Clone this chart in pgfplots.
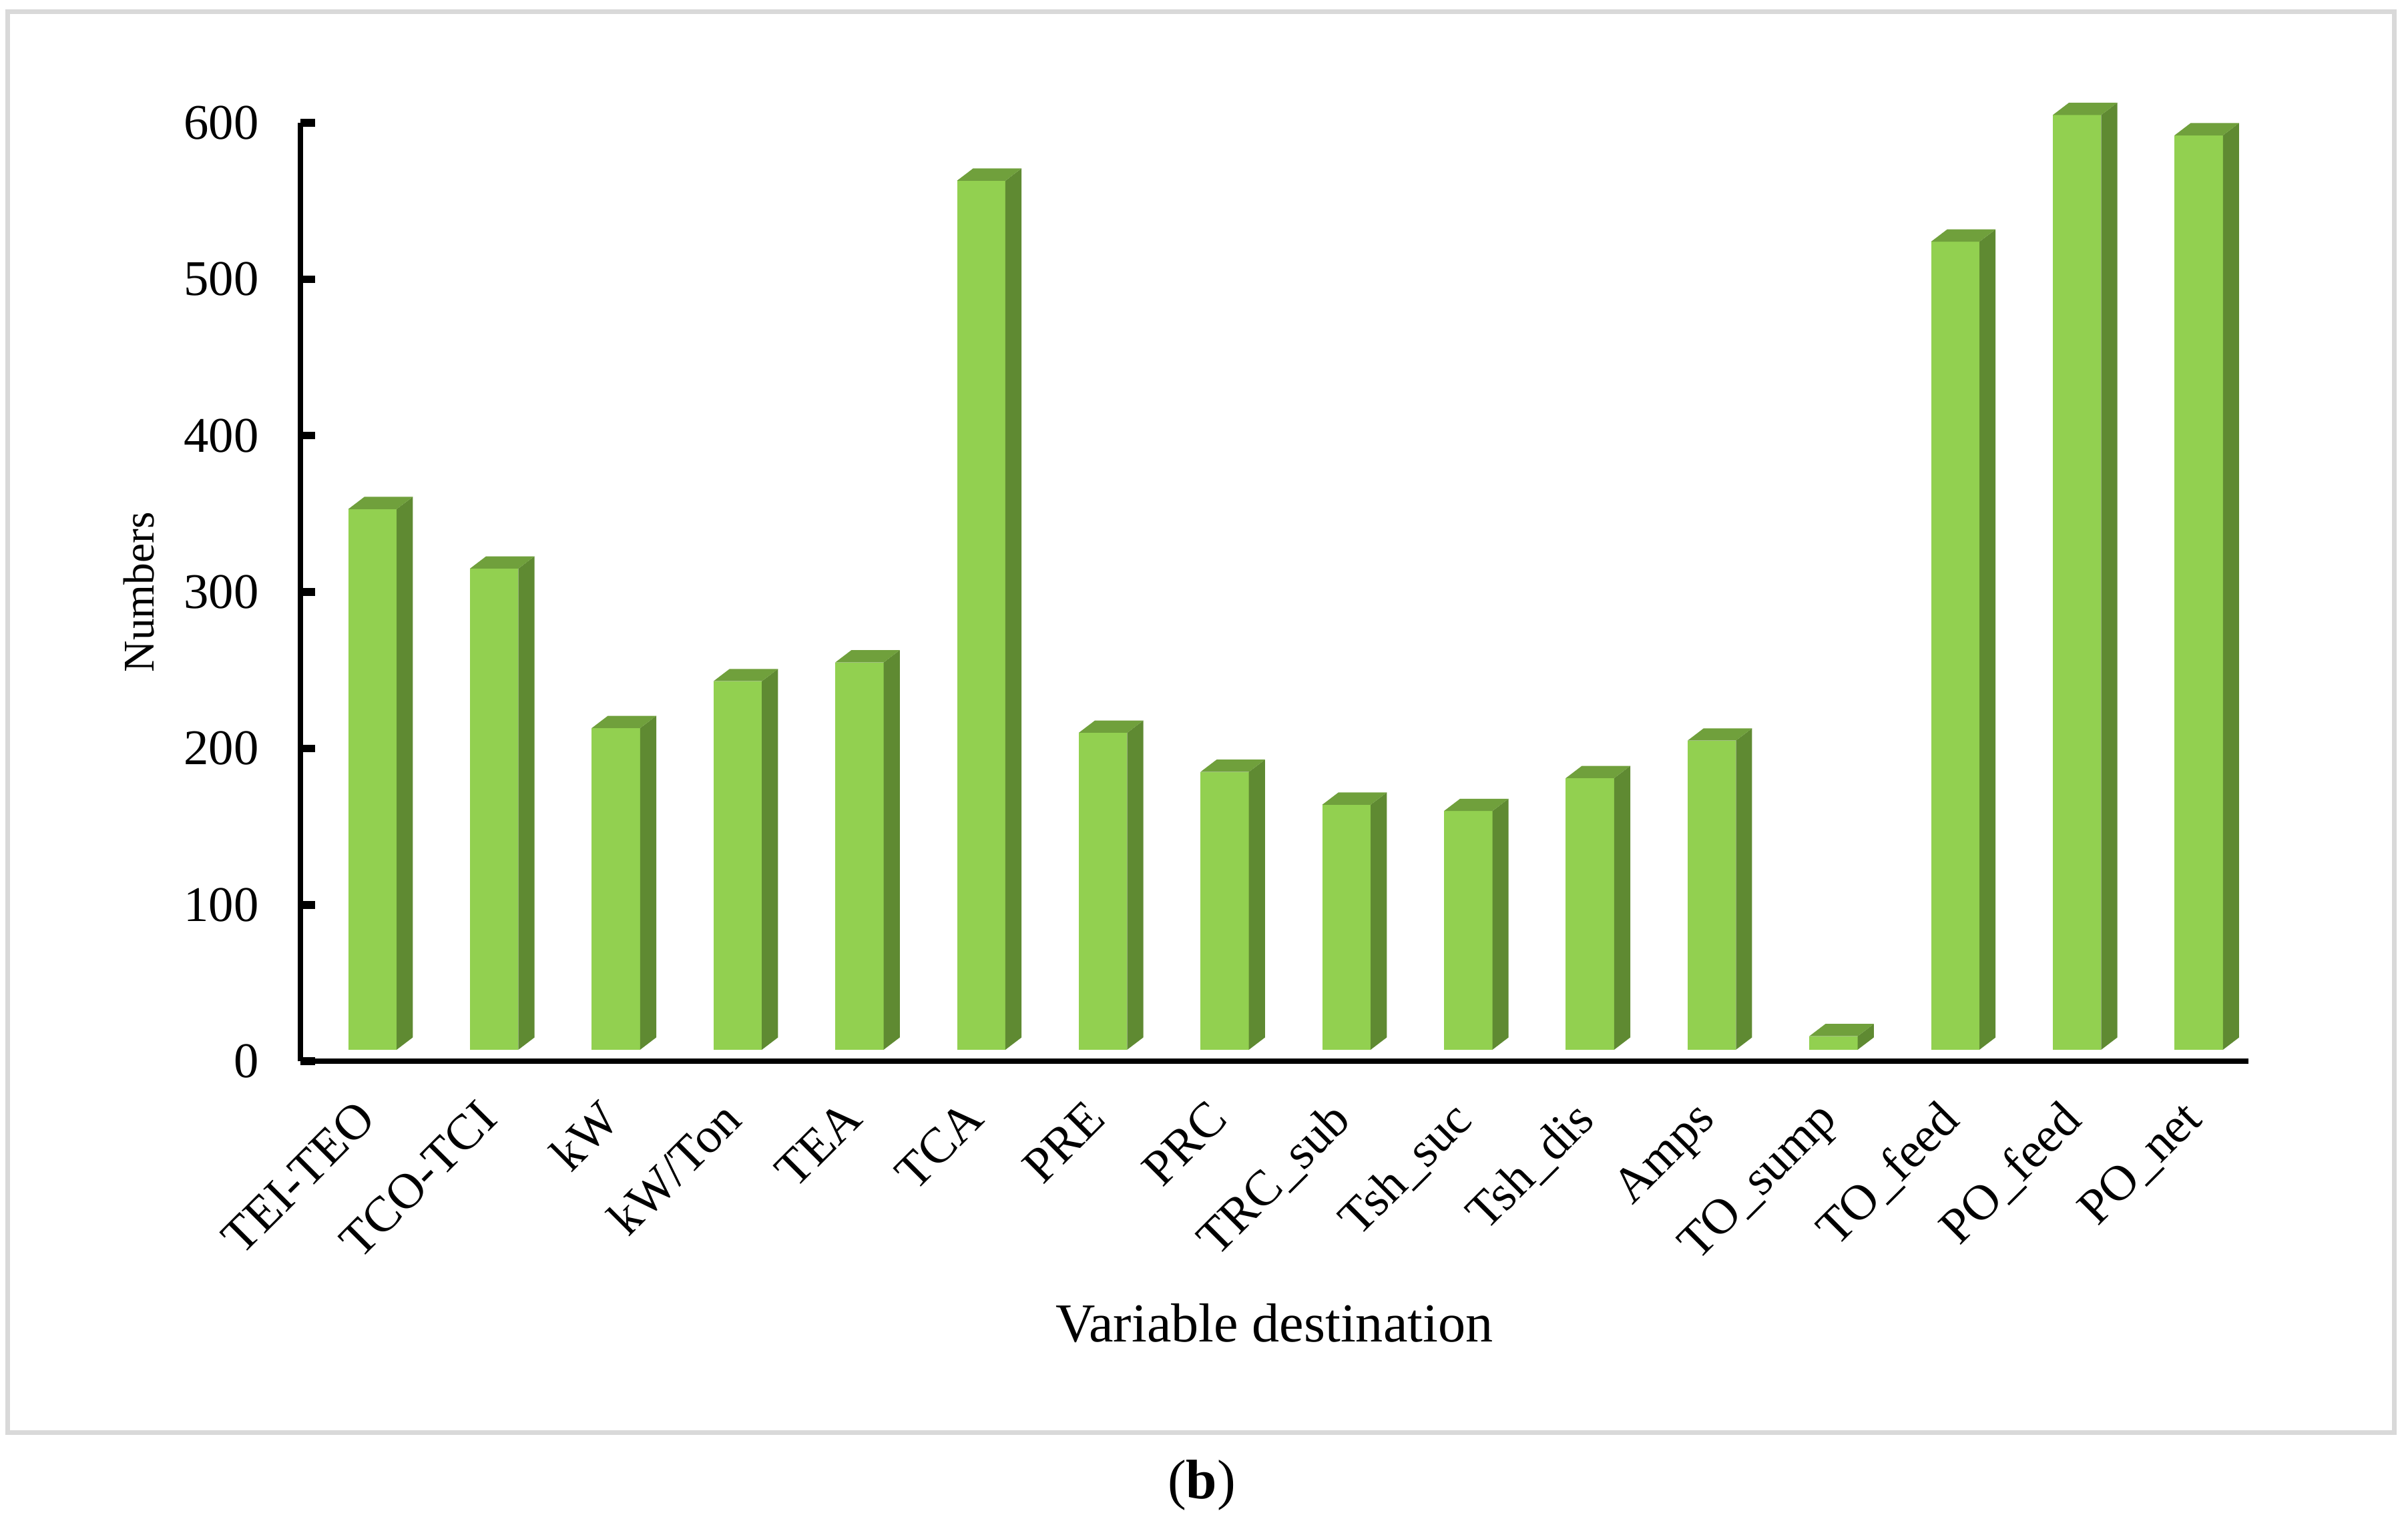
\documentclass[border=0pt]{standalone}
\usepackage{fontspec}
\setmainfont{Liberation Serif}
\usepackage{pgfplots}
\usepackage{pgfplotstable}
\pgfplotsset{compat=1.18}
\definecolor{barfront}{RGB}{146,208,80}
\definecolor{bartop}{RGB}{112,160,60}
\definecolor{barside}{RGB}{95,138,50}
\definecolor{framegray}{RGB}{217,217,217}

\pgfplotstableread{
x v
0 353
1 315
2 213
3 243
4 255
5 563
6 210
7 185
8 164
9 160
10 181
11 205
12 16
13 524
14 605
15 592
}\bardata

\pgfdeclareplotmark{box3d}{%
  \pgfmathsetmacro\hh{\barval*0.4075-3.0}%
  \pgfsetfillcolor{barfront}%
  \pgfpathrectangle{\pgfpoint{-6.3pt}{-\hh pt}}{\pgfpoint{12.6pt}{\hh pt}}%
  \pgfusepath{fill}%
  \pgfsetfillcolor{barside}%
  \pgfpathmoveto{\pgfpoint{6.3pt}{0pt}}%
  \pgfpathlineto{\pgfpoint{10.5pt}{3.2pt}}%
  \pgfpathlineto{\pgfpoint{10.5pt}{-\hh pt+3.2pt}}%
  \pgfpathlineto{\pgfpoint{6.3pt}{-\hh pt}}%
  \pgfpathclose
  \pgfusepath{fill}%
  \pgfsetfillcolor{bartop}%
  \pgfpathmoveto{\pgfpoint{-6.3pt}{0pt}}%
  \pgfpathlineto{\pgfpoint{6.3pt}{0pt}}%
  \pgfpathlineto{\pgfpoint{10.5pt}{3.2pt}}%
  \pgfpathlineto{\pgfpoint{-2.1pt}{3.2pt}}%
  \pgfpathclose
  \pgfusepath{fill}%
}

\begin{document}
\begin{tikzpicture}
\useasboundingbox (-78.2pt,-121.2pt) rectangle (549pt,276.5pt);
\draw[framegray, line width=1.2pt] (-76.2pt,-96.7pt) rectangle (545.5pt,273.4pt);
\begin{axis}[
  scale only axis, width=507.4pt, height=244.5pt,
  xmin=-0.593, xmax=15.407, ymin=0, ymax=600,
  axis x line=bottom, axis y line=left,
  axis line style={-, line width=1.45pt, black},
  xtick={0,...,15},
  xticklabels={TEI-TEO,TCO-TCI,kW,kW/Ton,TEA,TCA,PRE,PRC,TRC\_sub,Tsh\_suc,Tsh\_dis,Amps,TO\_sump,TO\_feed,PO\_feed,PO\_net},
  x tick style={draw=none},
  ytick={0,100,...,600},
  tick align=inside,
  y tick style={line width=2pt, black},
  major tick length=3.8pt,
  x tick label style={xshift=-4.8pt, yshift=-4.6pt, rotate=45, anchor=north east, font=\fontsize{13}{15}\selectfont},
  y tick label style={font=\fontsize{13}{15}\selectfont, xshift=-7.3pt},
  /pgf/number format/assume math mode=true,
  xlabel={Variable destination},
  xlabel style={at={(axis description cs:0.5,0)}, anchor=center, yshift=-68.3pt, font=\fontsize{14.3}{16}\selectfont},
  ylabel={Numbers},
  ylabel style={at={(axis description cs:-0.0828,0.5)}, anchor=center, font=\fontsize{11.4}{13}\selectfont},
  clip=false,
]
\addplot[scatter, only marks, mark=box3d,
  visualization depends on={\thisrow{v} \as \barval}]
  table[x=x, y=v] {\bardata};
\end{axis}
\node[font=\fontsize{14.5}{17}\selectfont] at (234.8pt,-110.4pt) {(\textbf{b})};
\end{tikzpicture}
\end{document}
